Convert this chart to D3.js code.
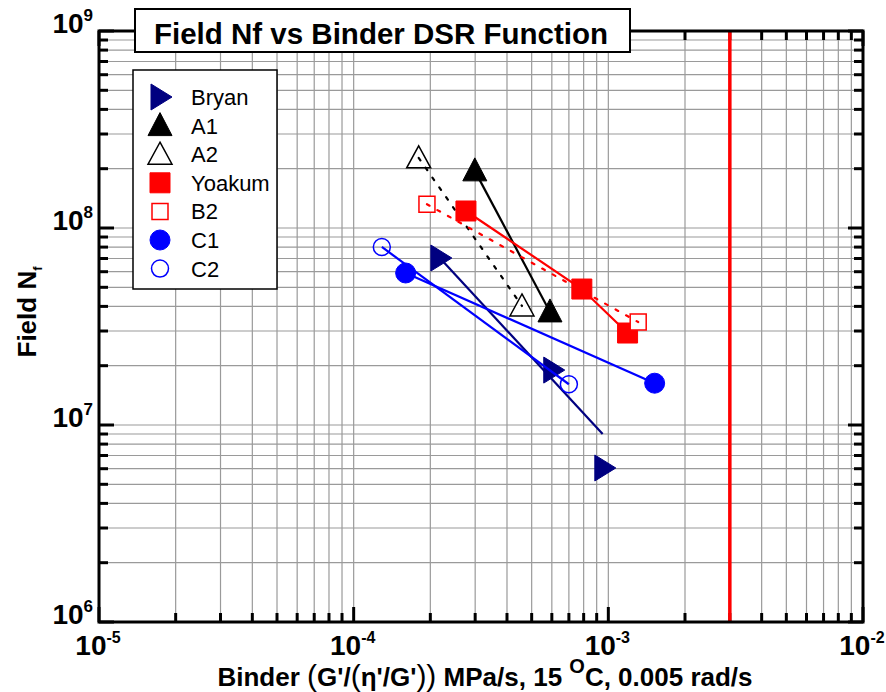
<!DOCTYPE html>
<html>
<head>
<meta charset="utf-8">
<script src="https://cdn.jsdelivr.net/npm/d3@7"></script>
<style>
  body { margin: 0; background: #fff; }
  svg text { font-family: "Liberation Sans", Arial, sans-serif; }
</style>
</head>
<body>
<svg id="chart"></svg>
<script>
// data (x = binder function, y = field Nf)
const bryanX = [2.18e-4, 6.05e-4, 9.6e-4];
const bryanY = [7.04e7, 1.90e7, 6.05e6];
const bryanLineX = [2.18e-4, 9.5e-4];
const bryanLineY = [7.04e7, 9.0e6];

const a1X = [2.99e-4, 5.9e-4];
const a1Y = [1.95e8, 3.75e7];

const a2X = [1.80e-4, 4.58e-4];
const a2Y = [2.27e8, 4.02e7];

const yoakumX = [2.76e-4, 7.87e-4, 1.19e-3];
const yoakumY = [1.22e8, 4.9e7, 2.93e7];

const b2X = [1.94e-4, 1.31e-3];
const b2Y = [1.32e8, 3.33e7];

const c1X = [1.60e-4, 1.52e-3];
const c1Y = [5.91e7, 1.63e7];

const c2X = [1.29e-4, 7.0e-4];
const c2Y = [8.01e7, 1.61e7];

const xDecades = [-5, -4, -3, -2];
const yDecades = [6, 7, 8, 9];
const limitX = 3e-3;

const legendNames = ["Bryan", "A1", "A2", "Yoakum", "B2", "C1", "C2"];

let width = 886, height = 692;
let margin = { top: 31, right: 23, bottom: 70, left: 99 };
let w = width - margin.left - margin.right,
    h = height - margin.top - margin.bottom;

let svg = d3.select('#chart').attr('width', width).attr('height', height);
let g = svg.append('g').attr('transform', `translate(${margin.left}, ${margin.top})`);

let x = d3.scaleLog().domain([1e-5, 1e-2]).range([0, w]);
let y = d3.scaleLog().domain([1e6, 1e9]).range([h, 0]);

// all decade + minor positions
function logTicks(decs) {
    let out = [];
    for (let i = 0; i < decs.length; i++) {
        for (let m = 1; m <= 9; m++) {
            if (i == decs.length - 1 && m > 1) break;
            out.push({ v: m * Math.pow(10, decs[i]), major: m == 1 });
        }
    }
    return out;
}
let xt = logTicks(xDecades), yt = logTicks(yDecades);

// grid
g.append('g').selectAll('line').data(xt).enter().append('line')
    .attr('x1', d => x(d.v)).attr('x2', d => x(d.v))
    .attr('y1', 0).attr('y2', h)
    .style('stroke', '#9a9a9a').style('stroke-width', 1.2);
g.append('g').selectAll('line').data(yt).enter().append('line')
    .attr('y1', d => y(d.v)).attr('y2', d => y(d.v))
    .attr('x1', 0).attr('x2', w)
    .style('stroke', '#9a9a9a').style('stroke-width', 1.2);

// ticks on all four sides, pointing in
function tickLen(d) { return d.major ? 15 : 9; }
let tk = g.append('g').style('stroke', '#000').style('stroke-width', 3);
tk.selectAll('.tb').data(xt).enter().append('line')
    .attr('x1', d => x(d.v)).attr('x2', d => x(d.v))
    .attr('y1', h).attr('y2', d => h - tickLen(d));
tk.selectAll('.tt').data(xt).enter().append('line')
    .attr('x1', d => x(d.v)).attr('x2', d => x(d.v))
    .attr('y1', 0).attr('y2', d => tickLen(d));
tk.selectAll('.tl').data(yt).enter().append('line')
    .attr('y1', d => y(d.v)).attr('y2', d => y(d.v))
    .attr('x1', 0).attr('x2', d => tickLen(d));
tk.selectAll('.tr').data(yt).enter().append('line')
    .attr('y1', d => y(d.v)).attr('y2', d => y(d.v))
    .attr('x1', w).attr('x2', d => w - tickLen(d));

// red limit line
g.append('line')
    .attr('x1', x(limitX)).attr('x2', x(limitX))
    .attr('y1', 0).attr('y2', h)
    .style('stroke', '#ff0000').style('stroke-width', 3.5);

// frame
g.append('rect').attr('width', w).attr('height', h)
    .style('fill', 'none').style('stroke', '#000').style('stroke-width', 3);

// tick labels
let xl = g.append('g').selectAll('text').data(xDecades).enter().append('text')
    .attr('x', d => x(Math.pow(10, d)) - 1).attr('y', h + 33)
    .attr('text-anchor', 'middle')
    .style('font-weight', 'bold').style('font-size', '28px');
xl.append('tspan').text('10');
xl.append('tspan').attr('dy', -12).style('font-size', '16px').text(d => d);

let yl = g.append('g').selectAll('text').data(yDecades).enter().append('text')
    .attr('x', -6).attr('y', d => y(Math.pow(10, d)) + 2)
    .attr('text-anchor', 'end')
    .style('font-weight', 'bold').style('font-size', '28px');
yl.append('tspan').text('10');
yl.append('tspan').attr('dy', -12).style('font-size', '17px').text(d => d);

// axis titles
let xTitle = svg.append('text')
    .attr('x', 485).attr('y', 686)
    .attr('text-anchor', 'middle')
    .style('font-weight', 'bold').style('font-size', '26px');
xTitle.append('tspan').text('Binder ');
xTitle.append('tspan').style('font-size', '30px').style('font-weight', 'normal').text('(');
xTitle.append('tspan').text("G'/");
xTitle.append('tspan').style('font-size', '30px').style('font-weight', 'normal').text('(');
xTitle.append('tspan').text("\u03b7'/G'");
xTitle.append('tspan').style('font-size', '30px').style('font-weight', 'normal').text('))');
xTitle.append('tspan').text(' MPa/s, 15 ');
xTitle.append('tspan').attr('dy', -13).style('font-size', '20px').text('O');
xTitle.append('tspan').attr('dy', 13).text('C, 0.005 rad/s');

let yTitle = svg.append('text')
    .attr('transform', 'translate(36, 312) rotate(-90)')
    .attr('text-anchor', 'middle')
    .style('font-weight', 'bold').style('font-size', '26px');
yTitle.append('tspan').text('Field N');
yTitle.append('tspan').attr('dy', 6).style('font-size', '13px').text('f');

// series
let series = [
    { name: 'Bryan', xs: bryanX, ys: bryanY, lx: bryanLineX, ly: bryanLineY, color: '#000080', shape: 'tri-right', fill: true, dash: null },
    { name: 'A1', xs: a1X, ys: a1Y, lx: a1X, ly: a1Y, color: '#000000', shape: 'tri-up', fill: true, dash: null },
    { name: 'A2', xs: a2X, ys: a2Y, lx: a2X, ly: a2Y, color: '#000000', shape: 'tri-up', fill: false, dash: '3,9' },
    { name: 'Yoakum', xs: yoakumX, ys: yoakumY, lx: yoakumX, ly: yoakumY, color: '#ff0000', shape: 'square', fill: true, dash: null },
    { name: 'B2', xs: b2X, ys: b2Y, lx: b2X, ly: b2Y, color: '#ff0000', shape: 'square', fill: false, dash: '3,9' },
    { name: 'C1', xs: c1X, ys: c1Y, lx: c1X, ly: c1Y, color: '#0000ff', shape: 'circle', fill: true, dash: null },
    { name: 'C2', xs: c2X, ys: c2Y, lx: c2X, ly: c2Y, color: '#0000ff', shape: 'circle', fill: false, dash: null }
];

function markerPath(shape, fill) {
    if (shape == 'tri-right') return 'M-9,-13 L12,0 L-9,13 Z';
    if (shape == 'tri-up') return fill ? 'M0,-13 L12,10 L-12,10 Z' : 'M0,-12 L12,10 L-12,10 Z';
    if (shape == 'square') return fill ? 'M-10,-10 H10 V10 H-10 Z' : 'M-8,-8 H8 V8 H-8 Z';
    return null;
}

function drawMarker(sel, s) {
    if (s.shape == 'circle') {
        sel.append('circle').attr('r', s.fill ? 10 : 8.5)
            .style('fill', s.fill ? s.color : 'none')
            .style('stroke', s.color).style('stroke-width', s.fill ? 1 : 1.5);
    } else {
        sel.append('path').attr('d', markerPath(s.shape, s.fill))
            .style('fill', s.fill ? s.color : '#fff')
            .style('stroke', s.color).style('stroke-width', s.fill ? 1 : 1.5);
    }
}

let line = d3.line().x(d => x(d[0])).y(d => y(d[1]));

series.forEach(function (s) {
    // markers of open symbols sit under the line, filled ones on top
    let pts = s.xs.map((v, i) => [v, s.ys[i]]);
    let lpts = s.lx.map((v, i) => [v, s.ly[i]]);
    let mk = g.append('g');
    pts.forEach(function (p) {
        let m = mk.append('g').attr('transform', `translate(${x(p[0])}, ${y(p[1])})`);
        drawMarker(m, s);
    });
    let path = g.append('path').datum(lpts).attr('d', line)
        .style('fill', 'none').style('stroke', s.color).style('stroke-width', 2.2);
    if (s.dash) path.style('stroke-dasharray', s.dash).style('stroke-linecap', 'round');
    if (s.fill) mk.raise();
});

// title box
svg.append('rect').attr('x', 135).attr('y', 9).attr('width', 495).attr('height', 43)
    .style('fill', '#fff').style('stroke', '#000').style('stroke-width', 2);
svg.append('text').attr('x', 154).attr('y', 44)
    .style('font-weight', 'bold').style('font-size', '29.5px')
    .text('Field Nf vs Binder DSR Function');

// legend
let lg = svg.append('g');
lg.append('rect').attr('x', 133).attr('y', 70).attr('width', 144).attr('height', 219)
    .style('fill', '#fff').style('stroke', '#000').style('stroke-width', 1.5);
series.forEach(function (s, i) {
    let yy = 97 + i * 28.6;
    let m = lg.append('g').attr('transform', `translate(160, ${yy})`);
    drawMarker(m, s);
    lg.append('text').attr('x', 191).attr('y', yy + 8)
        .style('font-size', '22px').text(legendNames[i]);
});
</script>
</body>
</html>
